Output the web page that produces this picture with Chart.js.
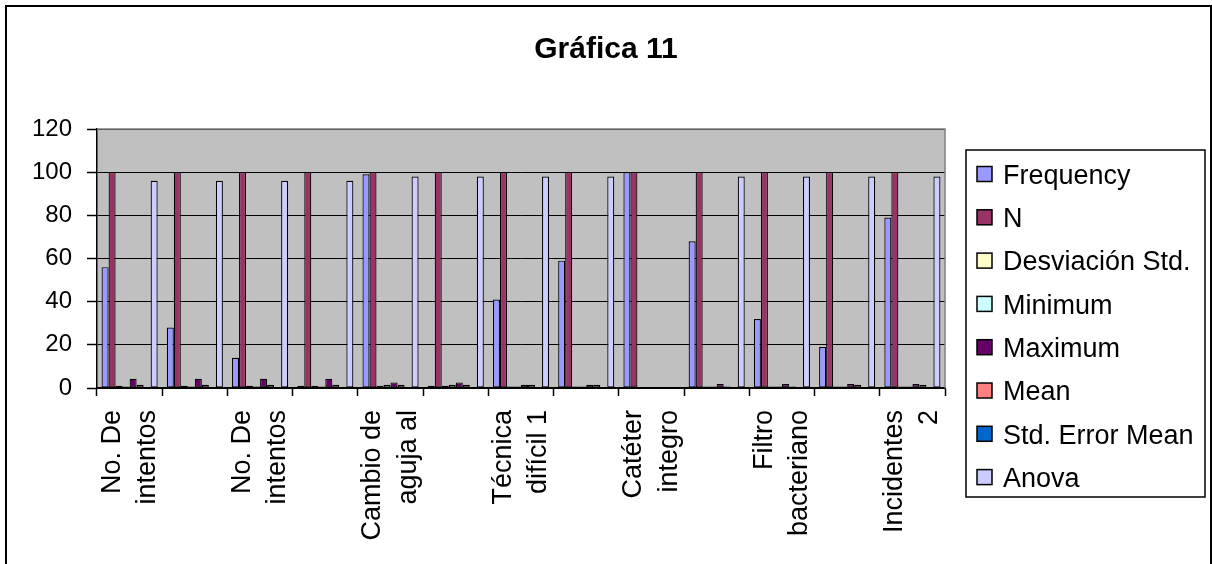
<!DOCTYPE html>
<html>
<head>
<meta charset="utf-8">
<title>Gráfica 11</title>
<script src="https://cdn.jsdelivr.net/npm/chart.js@4/dist/chart.umd.min.js"></script>
<style>
  html, body { margin: 0; padding: 0; background: #fff; }
  #wrap { width: 1212px; height: 564px; }
</style>
</head>
<body>
<div id="wrap"><canvas id="grafica" width="1212" height="564"></canvas></div>
<script>
// Título y categorías (solo se ve una de cada dos etiquetas)
const titulo = 'Gráfica 11';
const categorias = [
    ['No. De', 'intentos'], '', ['No. De', 'intentos'], '',
    ['Cambio de', 'aguja al'], '', ['Técnica', 'difícil 1'], '',
    ['Catéter', 'integro'], '', ['Filtro', 'bacteriano'], '',
    ['Incidentes', '2']
];
const ticksY = [0, 20, 40, 60, 80, 100, 120];

// Valores de cada serie
const frequency = [56, 28, 14, 1, 99, 1, 41, 59, 100, 68, 32, 19, 79];
const n = [100, 100, 100, 100, 100, 100, 100, 100, 100, 100, 100, 100, 100];
const desviacion = [1, 1, 1, 1, 1, 1, 0.7, 0.7, 0.5, 0.7, 0.7, 0.7, 0.7];
const minimum = [0.7, 0.7, 0.7, 0.7, 1.5, 1.5, 0.7, 0.7, 0.5, 0.7, 0.7, 0.7, 0.7];
const maximum = [4.3, 4.3, 4.3, 4.3, 2.6, 2.6, 1.5, 1.5, 0.5, 1.8, 1.8, 1.8, 1.8];
const mean = [1.5, 1.5, 1.5, 1.5, 1.5, 1.5, 1.5, 1.5, 0.5, 0.7, 0.7, 1.5, 1.5];
const stdError = [0.3, 0.3, 0.3, 0.3, 0.3, 0.3, 0.3, 0.3, 0.3, 0.3, 0.3, 0.3, 0.3];
const anova = [96, 96, 96, 96, 98, 98, 98, 98, 0, 98, 98, 98, 98];

const series = [
    { label: 'Frequency', data: frequency, color: '#9999FF' },
    { label: 'N', data: n, color: '#993366' },
    { label: 'Desviación Std.', data: desviacion, color: '#FFFFCC' },
    { label: 'Minimum', data: minimum, color: '#CCFFFF' },
    { label: 'Maximum', data: maximum, color: '#660066' },
    { label: 'Mean', data: mean, color: '#FF8080' },
    { label: 'Std. Error Mean', data: stdError, color: '#0066CC' },
    { label: 'Anova', data: anova, color: '#CCCCFF' }
];

const fuente = "Arial, 'Liberation Sans', sans-serif";

// Fondo gris, marco, título y leyenda al estilo Excel
const marcoExcel = {
    id: 'marcoExcel',
    beforeDraw(chart) {
        const ctx = chart.ctx;
        const a = chart.chartArea;
        ctx.save();
        ctx.fillStyle = '#fff';
        ctx.fillRect(0, 0, chart.width, chart.height);
        ctx.fillStyle = '#C0C0C0';
        ctx.fillRect(a.left, a.top, a.right - a.left, a.bottom - a.top);
        ctx.strokeStyle = '#000';
        ctx.lineWidth = 2;
        ctx.strokeRect(6, 6, 1205, chart.height + 10);
        ctx.restore();
    },
    beforeDatasetsDraw(chart) {
        const ctx = chart.ctx;
        const a = chart.chartArea;
        ctx.save();
        ctx.strokeStyle = '#808080';
        ctx.lineWidth = 1.5;
        ctx.beginPath();
        ctx.moveTo(a.left, a.top);
        ctx.lineTo(a.right, a.top);
        ctx.lineTo(a.right, a.bottom);
        ctx.stroke();
        ctx.restore();
    },
    afterDraw(chart) {
        const ctx = chart.ctx;
        ctx.save();
        // título
        ctx.fillStyle = '#000';
        ctx.font = 'bold 30px ' + fuente;
        ctx.textAlign = 'center';
        ctx.textBaseline = 'alphabetic';
        ctx.fillText(titulo, chart.width / 2, 58);

        // leyenda
        const x0 = 966, y0 = 150, w = 239, h = 347;
        ctx.fillStyle = '#fff';
        ctx.fillRect(x0, y0, w, h);
        ctx.strokeStyle = '#000';
        ctx.lineWidth = 1.5;
        ctx.strokeRect(x0, y0, w, h);
        ctx.font = '27px ' + fuente;
        ctx.textAlign = 'left';
        chart.data.datasets.forEach((ds, i) => {
            const cy = 174 + i * 43.3;
            ctx.fillStyle = ds.backgroundColor;
            ctx.fillRect(977, cy - 7.5, 15, 15);
            ctx.strokeStyle = '#000';
            ctx.lineWidth = 1.5;
            ctx.strokeRect(977, cy - 7.5, 15, 15);
            ctx.fillStyle = '#000';
            ctx.fillText(ds.label, 1003, cy + 9.7);
        });
        ctx.restore();
    }
};

new Chart(document.getElementById('grafica'), {
    type: 'bar',
    data: {
        labels: categorias,
        datasets: series.map(s => ({
            label: s.label,
            data: s.data,
            backgroundColor: s.color,
            borderColor: '#000',
            borderWidth: 1.2,
            borderSkipped: false,
            categoryPercentage: 0.86,
            barPercentage: 1
        }))
    },
    options: {
        responsive: false,
        animation: false,
        layout: { padding: { top: 129, right: 267, bottom: 0, left: 0 } },
        plugins: {
            legend: { display: false },
            title: { display: false },
            tooltip: { enabled: false }
        },
        scales: {
            x: {
                offset: true,
                grid: {
                    offset: true,
                    drawOnChartArea: false,
                    color: '#000',
                    tickLength: 8,
                    tickWidth: 1.5
                },
                border: { color: '#000', width: 1.5 },
                ticks: {
                    autoSkip: false,
                    minRotation: 90,
                    maxRotation: 90,
                    padding: 14,
                    labelOffset: -17.5,
                    color: '#000',
                    font: { family: fuente, size: 27, lineHeight: 1.3 }
                },
                afterFit(scale) { scale.height = 176; }
            },
            y: {
                min: 0,
                max: 120,
                afterBuildTicks(scale) { scale.ticks = ticksY.map(v => ({ value: v })); },
                grid: {
                    color: '#000',
                    lineWidth: 1,
                    tickLength: 10,
                    tickColor: '#000',
                    tickWidth: 1.5
                },
                border: { color: '#000', width: 1.5 },
                ticks: {
                    padding: 15,
                    color: '#000',
                    font: { family: fuente, size: 24 }
                },
                afterFit(scale) { scale.width = 97; }
            }
        }
    },
    plugins: [marcoExcel]
});
</script>
</body>
</html>
